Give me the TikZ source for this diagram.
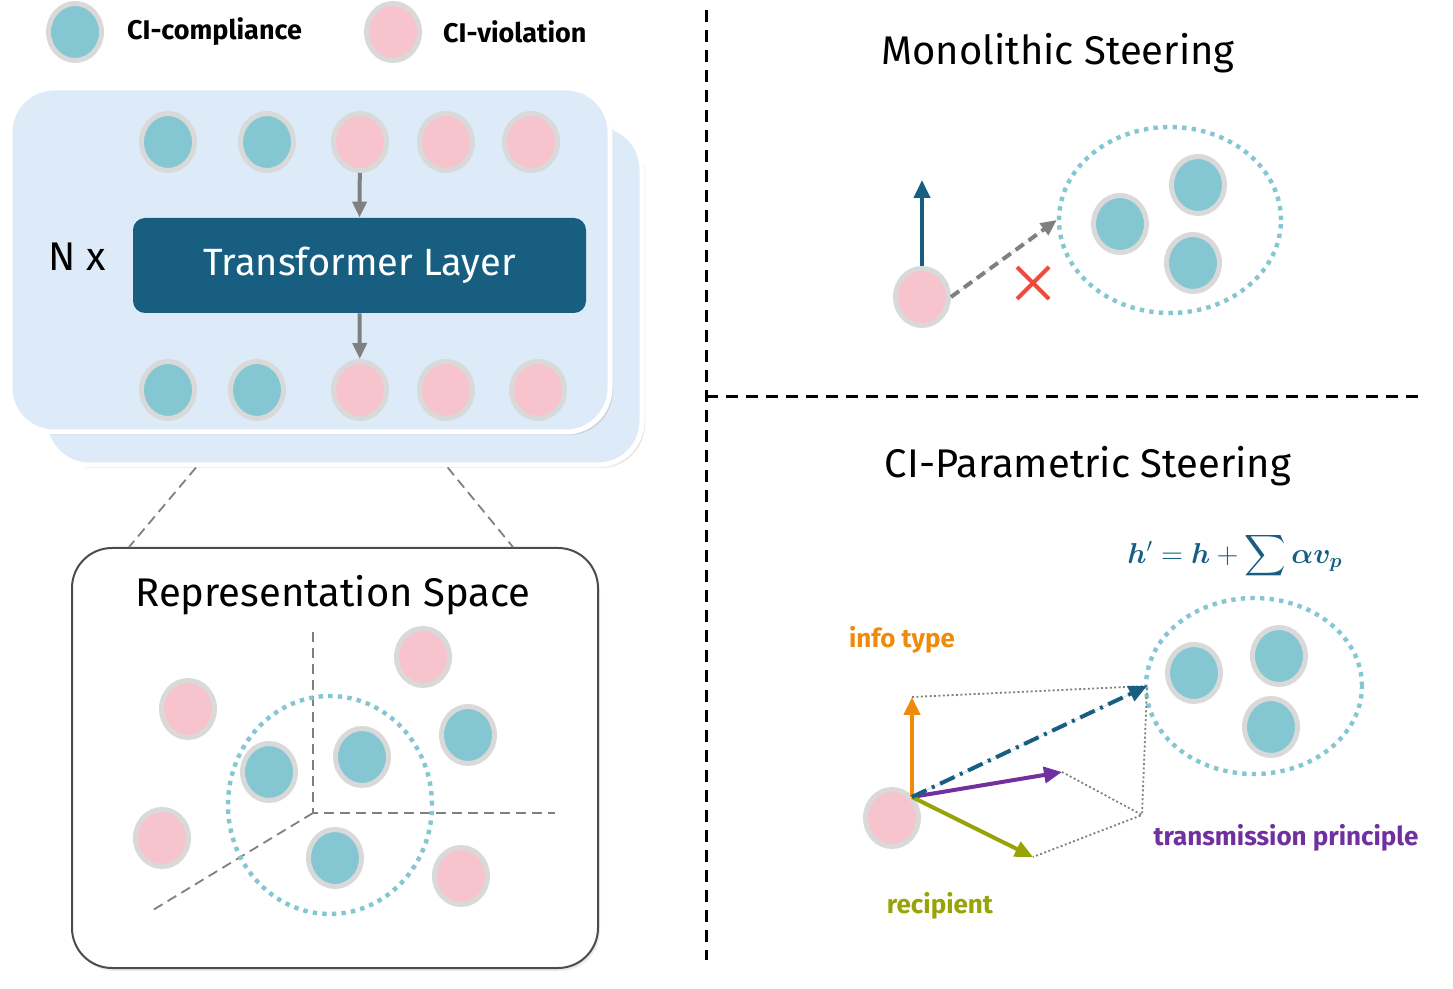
\documentclass[tikz,border=0pt]{standalone}
\usepackage{fontspec}
\setmainfont{Fira Sans}
\usepackage{exscale}
\usepackage{bm}
\usetikzlibrary{arrows.meta,positioning,shapes.geometric,shapes.misc,shadows,calc}

\definecolor{ciTeal}{HTML}{84C7D3}
\definecolor{ciPink}{HTML}{F7C4CE}
\definecolor{ringGray}{HTML}{D9D9D9}
\definecolor{panelBlue}{HTML}{DDEAF7}
\definecolor{layerNavy}{HTML}{175E81}
\definecolor{arrowGray}{HTML}{808080}
\definecolor{crossRed}{HTML}{F04A3C}
\definecolor{infoOrange}{HTML}{F08A0A}
\definecolor{tpPurple}{HTML}{7030A0}
\definecolor{recOlive}{HTML}{98A305}

\newcommand{\fs}[1]{\fontsize{#1}{#1}\selectfont}

\begin{document}
\begin{tikzpicture}[
  x=0.5pt, y=-0.5pt,
  font=\fs{14},
  token/.style={ellipse, draw=ringGray, line width=2.5pt, inner sep=0pt,
                minimum width=26.5pt, minimum height=28.5pt},
  comply/.style={token, fill=ciTeal},
  violate/.style={token, fill=ciPink},
  panel/.style={draw=white, line width=2.5pt, rounded corners=22pt, fill=panelBlue,
                minimum width=300pt, minimum height=172pt,
                drop shadow={opacity=0.2, shadow xshift=1.5pt, shadow yshift=-1.5pt}},
  layer/.style={fill=layerNavy, rounded corners=6pt, text=white, font=\fs{19},
                minimum width=226.5pt, minimum height=47.5pt},
  title/.style={font=\fs{20}},
  legtext/.style={anchor=west, font=\fs{13.5}\bfseries},
  vlabel/.style={font=\fs{13}\bfseries},
  flow/.style={-{Triangle[length=8pt, width=7pt]}, line width=2pt, draw=arrowGray, fill=arrowGray},
  axis/.style={draw=arrowGray, line width=0.9pt, dash pattern=on 5pt off 3pt},
  divider/.style={draw=black, line width=1.5pt, dash pattern=on 6pt off 4pt},
  cluster/.style={ellipse, draw=ciTeal, line width=2.2pt, dash pattern=on 2.2pt off 2.6pt},
  vec/.style={-{Triangle[length=9pt, width=8pt]}, line width=2pt},
  guide/.style={draw=arrowGray, line width=0.9pt, dash pattern=on 1pt off 1.2pt}
]
\useasboundingbox (0,0) rectangle (1453,989);

% ===== legend =====
\node[comply] (legc) at (75,32) {};
\node[legtext] (legctext) at (120,32) {CI-compliance};
\node[violate] (legv) at (393,32) {};
\node[legtext] (legvtext) at (436,32) {CI-violation};

% ===== transformer stack =====
\node[panel, minimum width=298.5pt, minimum height=170pt] (back) at (343.5,295) {};
\node[panel] (front) at (310,260) {};

\foreach \x [count=\i] in {168,267} \node[comply] (in\i) at (\x,142) {};
\foreach \x [count=\i from 3] in {360,446,531} \node[violate] (in\i) at (\x,142) {};
\foreach \x [count=\i] in {168,257} \node[comply] (out\i) at (\x,390) {};
\foreach \x [count=\i from 3] in {360,446,538} \node[violate] (out\i) at (\x,390) {};

\node[layer] (layer) at (359.5,265.5) {Transformer Layer};
\node[font=\fs{20}] (nx) at (77,257) {N x};

\draw[flow] (in3) -- (layer.north);
\draw[flow] (layer.south) -- (out3);

% ===== representation space =====
\node[draw=black!70, line width=1pt, rounded corners=20pt, fill=white,
      minimum width=263pt, minimum height=210pt,
      drop shadow={opacity=0.15, shadow xshift=1pt, shadow yshift=-1.5pt}] (rep) at (335,758) {};
\node[title] (reptitle) at (333,595) {Representation Space};

\draw[axis] ($(back.south west)!0.255!(back.south east)$) -- ($(rep.north west)!0.11!(rep.north east)$);
\draw[axis] ($(back.south west)!0.673!(back.south east)$) -- ($(rep.north west)!0.837!(rep.north east)$);

\coordinate (axo) at (313,813);
\coordinate (axz) at (313,632);
\coordinate (axx) at (555,813);
\coordinate (axy) at (153,910);
\draw[axis] (axz) -- (axo) -- (axx);
\draw[axis] (axo) -- (axy);

\node[cluster, minimum width=102pt, minimum height=109pt] (repcl) at (330,805) {};

\node[violate] (r1) at (188,709) {};
\node[violate] (r2) at (423,657) {};
\node[comply]  (r3) at (269,772) {};
\node[comply]  (r4) at (362,757) {};
\node[comply]  (r5) at (468,735) {};
\node[violate] (r6) at (162,838) {};
\node[comply]  (r7) at (335,858) {};
\node[violate] (r8) at (461,876) {};

% ===== dividers =====
\coordinate (divtop) at (706,10);
\coordinate (divbot) at (706,960);
\coordinate (divmid) at (706,397);
\coordinate (divend) at (1420,397);
\draw[divider] (divtop) -- (divbot);
\draw[divider] (divmid) -- (divend);

% ===== monolithic steering =====
\node[title] (monotitle) at (1058,53) {Monolithic Steering};
\node[cluster, minimum width=111pt, minimum height=93pt] (monocl) at (1170,220) {};
\node[comply] (m1) at (1120,224) {};
\node[comply] (m2) at (1198,185) {};
\node[comply] (m3) at (1193,263) {};
\node[violate] (mono) at (922,297) {};
\coordinate (monoup) at (922,180);
\draw[vec, draw=layerNavy, fill=layerNavy] (mono.north) -- (monoup);
\draw[flow, dash pattern=on 5pt off 3pt] (mono.east) -- (monocl.west);
\node[cross out, draw=crossRed, line width=2pt, minimum size=14pt, inner sep=0pt] (fail) at (1033,283) {};

% ===== CI-parametric steering =====
\node[title] (cptitle) at (1088,466) {CI-Parametric Steering};
\node[text=layerNavy, font=\fs{14}] (formula) at (1235,556)
  {$\bm{h}' = \bm{h} + \displaystyle\sum \bm{\alpha} \bm{v}_{\bm{p}}$};

\node[cluster, minimum width=108pt, minimum height=88pt] (cpcl) at (1254,686) {};
\node[comply] (c1) at (1194,673) {};
\node[comply] (c2) at (1279,656) {};
\node[comply] (c3) at (1271,727) {};

\node[violate] (cip) at (892,818) {};
\coordinate (o) at (912,797);
\coordinate (vinfo) at (912,697);
\coordinate (vtp) at (1062,772);
\coordinate (vrec) at (1033,857);
\coordinate (vsum) at (1147,686);
\coordinate (vcorner) at (1142,815);

\draw[guide] (vinfo) -- (vsum) -- (vcorner);
\draw[guide] (vtp) -- (vcorner) -- (vrec);

\draw[vec, draw=infoOrange, fill=infoOrange] (o) -- (vinfo);
\draw[vec, draw=tpPurple, fill=tpPurple] (o) -- (vtp);
\draw[vec, draw=recOlive, fill=recOlive] (o) -- (vrec);
\draw[vec, draw=layerNavy, fill=layerNavy, dash pattern=on 8pt off 3pt on 1.5pt off 3pt] (o) -- (vsum);

\node[vlabel, text=infoOrange] (infolbl) at (902,640) {info type};
\node[vlabel, text=tpPurple] (tplbl) at (1286,838) {transmission principle};
\node[vlabel, text=recOlive] (reclbl) at (940,906) {recipient};

\end{tikzpicture}
\end{document}
